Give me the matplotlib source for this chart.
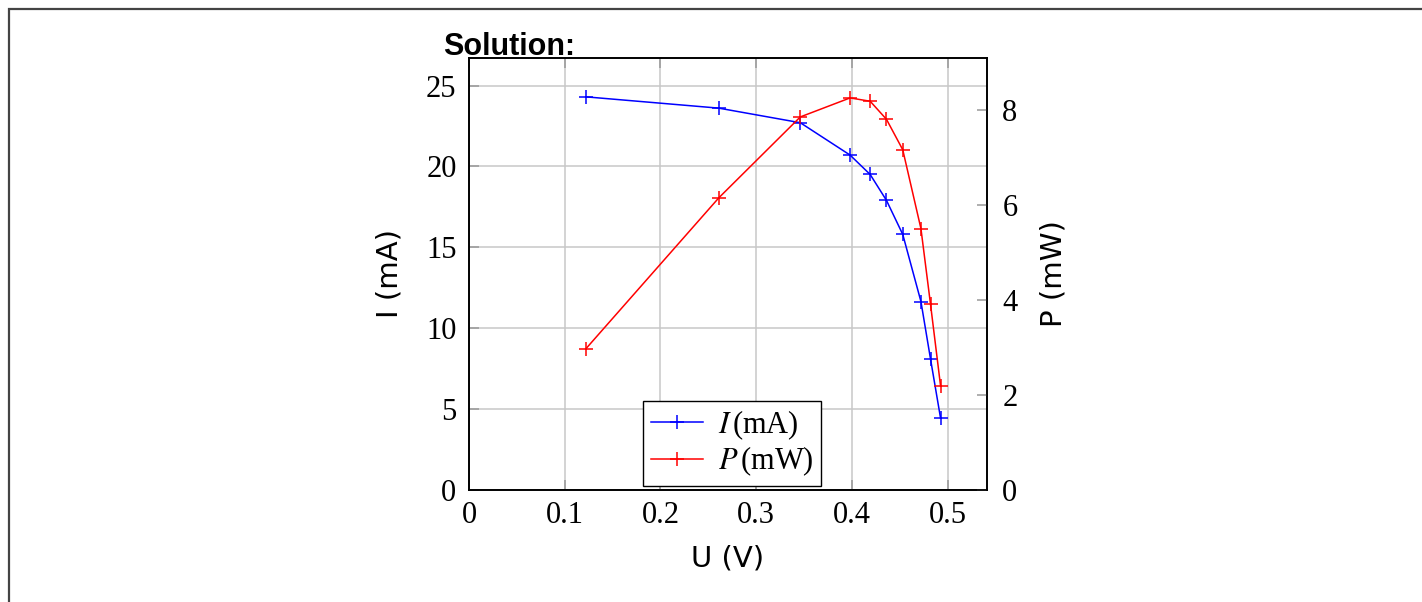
import matplotlib
matplotlib.use("Agg")
import matplotlib.pyplot as plt
from matplotlib.patches import Rectangle

# measured solar cell data
U = [0.122, 0.261, 0.346, 0.398, 0.419, 0.436, 0.453, 0.472, 0.482, 0.4925]
I_mA = [24.3, 23.6, 22.7, 20.7, 19.5, 17.9, 15.8, 11.65, 8.1, 4.44]
P_mW = [2.97, 6.15, 7.85, 8.25, 8.18, 7.8, 7.16, 5.5, 3.91, 2.19]

x_ticks = [0, 0.1, 0.2, 0.3, 0.4, 0.5]
x_ticklabels = ["0", "0.1", "0.2", "0.3", "0.4", "0.5"]
i_ticks = [0, 5, 10, 15, 20, 25]
p_ticks = [0, 2, 4, 6, 8]

plt.rcParams["mathtext.fontset"] = "stix"
serif = "Liberation Serif"
sans = "DejaVu Sans"

W, H = 1422, 602
fig = plt.figure(figsize=(W / 100, H / 100), dpi=100)

# page frame
fig.patches.append(Rectangle((8.5 / W, -0.1), 1.2, (H - 8.5) / H + 0.1,
                             transform=fig.transFigure, fill=False,
                             edgecolor="#444444", linewidth=1.6))

ax = fig.add_axes([469 / W, (H - 490) / H, 518 / W, 432 / H])
ax2 = ax.twinx()

l1, = ax.plot(U, I_mA, color="#0000ff", marker="+", markersize=10,
              markeredgewidth=1.1, linewidth=1.1, label=r"$I\,$(mA)")
l2, = ax2.plot(U, P_mW, color="#ff0000", marker="+", markersize=10,
               markeredgewidth=1.1, linewidth=1.1, label=r"$P\,$(mW)")

ax.set_xlim(0, 0.541)
ax.set_ylim(0, 26.7)
ax2.set_ylim(0, 9.09)

ax.set_xticks(x_ticks)
ax.set_xticklabels(x_ticklabels)
ax.set_yticks(i_ticks)
ax2.set_yticks(p_ticks)

ax.grid(True, color="#c8c8c8", linewidth=1.1)
ax.set_axisbelow(True)

ax.tick_params(axis="x", direction="in", length=7, width=1.1, color="#999999",
               top=True, bottom=True, pad=8, labelsize=22)
ax.tick_params(axis="y", direction="in", length=7, width=1.1, color="#999999",
               left=True, right=False, pad=9, labelsize=22)
ax2.tick_params(axis="y", direction="in", length=7, width=1.1, color="#999999",
                right=True, pad=11, labelsize=22)
for a in (ax, ax2):
    for lab in a.get_xticklabels() + a.get_yticklabels():
        lab.set_fontfamily(serif)
    for sp in a.spines.values():
        sp.set_linewidth(1.2)
        sp.set_color("black")

ax.set_xlabel("U (V)", fontsize=21, family=sans, labelpad=10)
ax.set_ylabel("I (mA)", fontsize=21, family=sans, labelpad=16)
ax2.set_ylabel("P (mW)", fontsize=21, family=sans, labelpad=16)

leg = ax2.legend(handles=[l1, l2], loc="lower left",
                 bbox_to_anchor=(0.336, 4 / 432), borderaxespad=0,
                 fancybox=False, framealpha=1,
                 edgecolor="black", prop={"family": serif, "size": 22},
                 handlelength=1.7, borderpad=0.25, labelspacing=0.1,
                 handletextpad=0.5)
leg.get_frame().set_linewidth(1.0)

fig.text(443 / W, (H - 55) / H, "Solution:", fontsize=22, fontweight="bold",
         family="Liberation Sans", va="baseline", ha="left")

fig.savefig("out.png", dpi=100)
